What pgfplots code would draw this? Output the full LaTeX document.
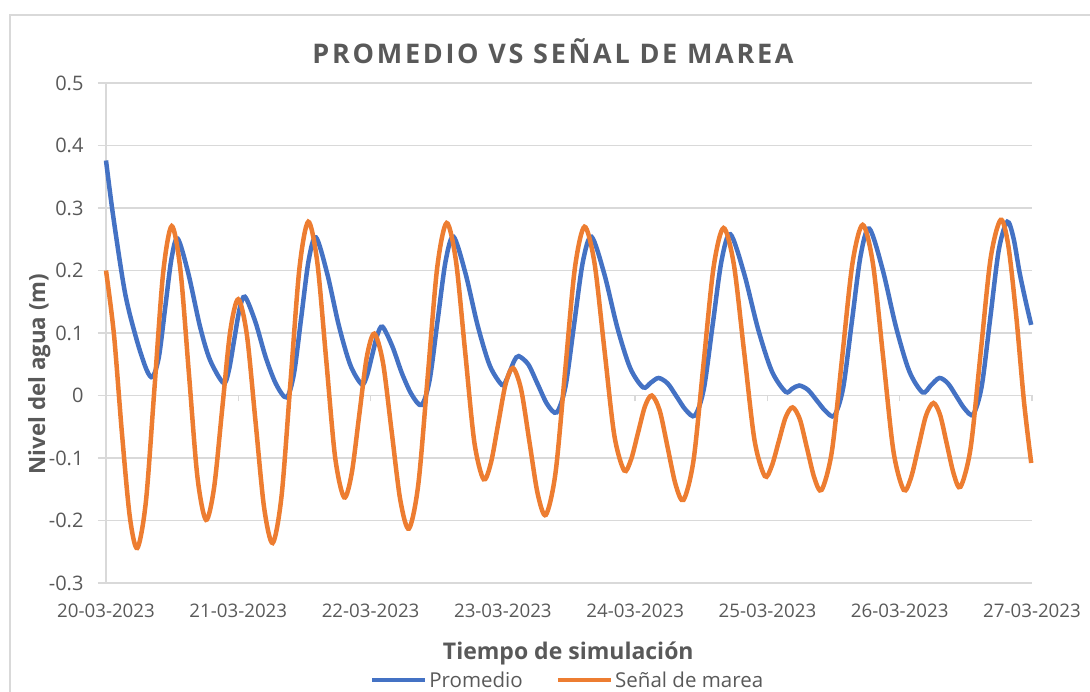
\documentclass[border=0pt]{standalone}
\usepackage{fontspec}
\setmainfont{Open Sans}
\usepackage{pgfplots}
\pgfplotsset{compat=1.18}
\definecolor{blueS}{HTML}{4472C4}
\definecolor{orangeS}{HTML}{ED7D31}
\definecolor{txt}{HTML}{595959}
\definecolor{gridc}{HTML}{D9D9D9}
\begin{document}
\begin{tikzpicture}[x=1pt,y=1pt]
\path[use as bounding box] (0,0) rectangle (1090,691);
\draw[gridc, line width=1.5pt] (10,-2) -- (10,676) -- (1092,676);
% axis for the zero line tick marks
\begin{axis}[at={(106pt,108pt)}, anchor=south west, width=926pt, height=500pt, scale only axis,
  xmin=0,xmax=7,ymin=-0.3,ymax=0.5, axis x line=middle, axis y line=none,
  x axis line style={draw=gridc,line width=1.3pt,-}, xtick={0,1,2,3,4,5,6,7}, xticklabels={},
  xtick style={draw=gridc,line width=1.3pt}, tick align=outside, major tick length=6pt, ytick=\empty]
\addplot[draw=none] coordinates {(0,0)};
\end{axis}
\begin{axis}[at={(106pt,108pt)}, anchor=south west, width=926pt, height=500pt, scale only axis,
  xmin=0,xmax=7,ymin=-0.3,ymax=0.5, clip=false,
  axis y line=left, axis x line=bottom,
  x axis line style={draw=none,-}, y axis line style={draw=gridc,line width=1.3pt,-},
  xtick={0,1,2,3,4,5,6,7},
  xticklabels={20-03-2023,21-03-2023,22-03-2023,23-03-2023,24-03-2023,25-03-2023,26-03-2023,27-03-2023},
  xtick style={draw=none},
  ytick={-0.3,-0.2,-0.1,0,0.1,0.2,0.3,0.4,0.5},
  yticklabels={-0.3,-0.2,-0.1,0,0.1,0.2,0.3,0.4,0.5},
  ytick style={draw=gridc,line width=1.3pt}, tick align=outside, major tick length=8pt,
  ymajorgrids, grid style={draw=gridc,line width=1.3pt},
  xticklabel style={font=\fontsize{18.7}{22}\selectfont, text=txt, yshift=-9pt},
  yticklabel style={font=\fontsize{20}{24}\selectfont, text=txt, xshift=-11pt},
  legend style={at={(axis description cs:0.4984,-0.194)}, anchor=center, draw=none, fill=none,
    legend columns=2, font=\fontsize{20.5}{24}\selectfont, text=txt,
    /tikz/every even column/.append style={column sep=31pt}, inner sep=0pt, nodes={inner sep=2pt}},
  legend image code/.code={\draw[#1] (0pt,0pt) -- (53pt,0pt);},
]
\addplot[blueS, line width=4.5pt, smooth] coordinates {
(0.000,0.376)(0.055,0.286)(0.144,0.164)(0.232,0.089)(0.307,0.041)(0.353,0.030)
(0.400,0.062)(0.4475,0.1405)(0.495,0.219)(0.542,0.251)
(0.622,0.1955)(0.711,0.110)(0.786,0.057)(0.888,0.020)
(0.9285,0.040)(0.969,0.089)(1.0095,0.138)(1.050,0.158)
(1.129,0.118)(1.2075,0.061)(1.286,0.018)(1.365,-0.003)
(1.4205,0.0344)(1.476,0.125)(1.5315,0.2156)(1.587,0.253)
(1.6735,0.194)(1.760,0.112)(1.8465,0.049)(1.933,0.018)
(1.972,0.0314)(2.0115,0.064)(2.051,0.0966)(2.090,0.110)
(2.164,0.079)(2.238,0.035)(2.312,0.001)(2.386,-0.015)
(2.446,0.0243)(2.5065,0.1195)(2.567,0.2147)(2.627,0.254)
(2.718,0.195)(2.8095,0.112)(2.901,0.048)(2.992,0.017)
(3.024,0.0237)(3.056,0.040)(3.088,0.0563)(3.120,0.063)
(3.192,0.0498)(3.2635,0.018)(3.335,-0.0139)(3.407,-0.027)
(3.473,0.014)(3.5385,0.1135)(3.604,0.213)(3.670,0.254)
(3.7675,0.194)(3.865,0.109)(3.9625,0.044)(4.060,0.013)
(4.1185,0.0205)(4.177,0.028)
(4.246,0.0192)(4.3145,-0.002)(4.383,-0.0232)(4.452,-0.032)
(4.519,0.0103)(4.586,0.113)(4.653,0.2157)(4.720,0.258)
(4.824,0.195)(4.9285,0.107)(5.033,0.039)(5.137,0.006)
(5.1885,0.011)(5.240,0.016)
(5.3065,0.009)(5.373,-0.008)(5.4395,-0.025)(5.506,-0.032)
(5.572,0.0117)(5.638,0.1175)(5.704,0.2233)(5.770,0.267)
(5.871,0.2015)(5.9715,0.110)(6.072,0.039)(6.173,0.005)
(6.2365,0.0165)(6.300,0.028)
(6.364,0.0195)(6.428,-0.001)(6.492,-0.0215)(6.556,-0.030)
(6.620,0.015)(6.6845,0.124)(6.749,0.233)(6.813,0.278)
(6.860,0.252)(6.905,0.198)(6.950,0.153)(6.994,0.113)
};
\addlegendentry{Promedio}
\addplot[orangeS, line width=4.5pt, smooth] coordinates {
(0.000,0.200)(0.060,0.098)(0.120,-0.059)(0.180,-0.194)(0.237,-0.244)
(0.302,-0.169)(0.367,0.0135)(0.432,0.196)(0.497,0.271)
(0.562,0.202)(0.6265,0.036)(0.691,-0.130)(0.756,-0.199)
(0.817,-0.1475)(0.878,-0.0225)(0.939,0.1025)(1.000,0.154)
(1.065,0.097)(1.130,-0.041)(1.195,-0.179)(1.260,-0.236)
(1.327,-0.161)(1.3945,0.021)(1.462,0.203)(1.529,0.278)
(1.597,0.2136)(1.6645,0.0575)(1.732,-0.0986)(1.800,-0.163)
(1.857,-0.125)(1.914,-0.032)(1.971,0.061)(2.028,0.099)
(2.0935,0.053)(2.159,-0.057)(2.2245,-0.167)(2.290,-0.213)
(2.361,-0.142)(2.4325,0.0315)(2.504,0.205)(2.575,0.276)
(2.645,0.216)(2.7145,0.071)(2.784,-0.074)(2.854,-0.134)
(2.9095,-0.108)(2.965,-0.045)(3.0205,0.018)(3.076,0.044)
(3.138,0.0097)(3.2005,-0.0735)(3.263,-0.157)(3.325,-0.191)
(3.398,-0.124)(3.471,0.0395)(3.544,0.203)(3.617,0.270)
(3.692,0.213)(3.767,0.075)(3.842,-0.063)(3.917,-0.120)
(3.969,-0.1025)(4.0215,-0.060)(4.074,-0.0175)(4.126,0.000)
(4.186,-0.0244)(4.246,-0.0835)(4.306,-0.1426)(4.366,-0.167)
(4.4415,-0.1035)(4.517,0.0505)(4.5925,0.2045)(4.668,0.268)
(4.746,0.210)(4.824,0.0695)(4.902,-0.071)(4.980,-0.129)
(5.0325,-0.113)(5.085,-0.074)(5.1375,-0.035)(5.190,-0.019)
(5.245,-0.038)(5.300,-0.085)(5.355,-0.132)(5.410,-0.151)
(5.4875,-0.089)(5.565,0.061)(5.6425,0.211)(5.720,0.273)
(5.7975,0.211)(5.875,0.061)(5.9525,-0.089)(6.030,-0.151)
(6.086,-0.131)(6.1425,-0.0815)(6.199,-0.032)(6.255,-0.012)
(6.306,-0.0316)(6.3575,-0.079)(6.409,-0.126)(6.460,-0.146)
(6.536,-0.084)(6.6115,0.0675)(6.687,0.219)(6.763,0.281)
(6.820,0.241)(6.880,0.129)(6.940,-0.011)(6.994,-0.108)
};
\addlegendentry{Señal de marea}
\end{axis}
\node[anchor=base, text=txt, font=\fontsize{27}{32}\selectfont\bfseries\addfontfeature{LetterSpace=10}] at (553,627.7) {PROMEDIO VS SEÑAL DE MAREA};
\node[anchor=base, text=txt, font=\fontsize{23}{27}\selectfont\bfseries] at (568.3,31) {Tiempo de simulación};
\node[anchor=base, rotate=90, text=txt, font=\fontsize{22.3}{26}\selectfont\bfseries] at (45,317) {Nivel del agua (m)};
\end{tikzpicture}
\end{document}
